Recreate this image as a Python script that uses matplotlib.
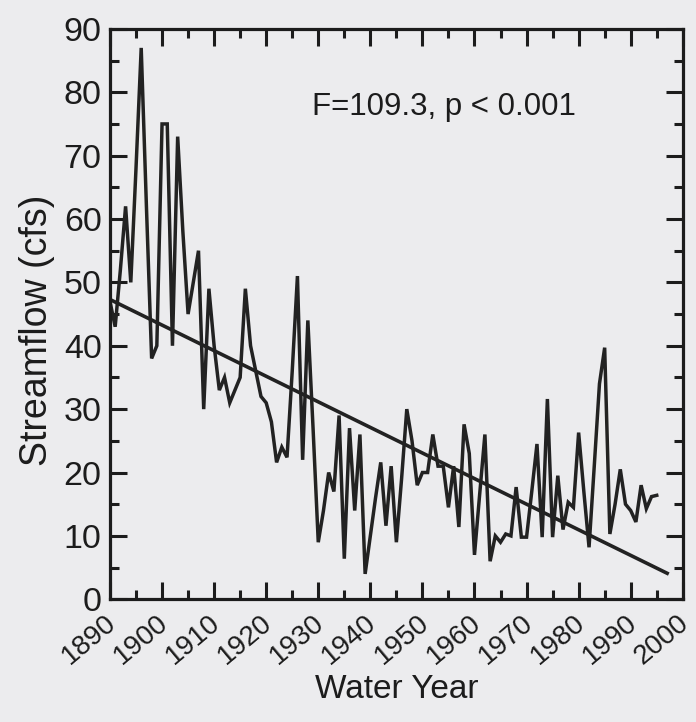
import numpy as np
import matplotlib
matplotlib.use("Agg")
import matplotlib.pyplot as plt
from matplotlib.ticker import MultipleLocator
from matplotlib.transforms import ScaledTranslation

# annual mean streamflow, water years 1890-1995
years = np.arange(1890, 1996)
flow = [47, 43, 52, 62, 50, 68, 87, 62, 38, 40,
        75, 75, 40, 73, 58, 45, 50, 55, 30, 49,
        40, 33, 35, 31, 33, 35, 49, 40, 36, 32,
        31, 28, 21.6, 24, 22.4, 36, 51, 22, 44, 27,
        9, 14, 20, 17, 29, 6.4, 27, 14, 26, 4,
        10, 16, 21.6, 11.6, 21, 9, 19, 30, 25, 18,
        20, 20, 26, 21, 21, 14.5, 21, 11.4, 27.6, 23,
        7, 16.6, 26, 6, 10, 9, 10.3, 10, 17.7, 9.8,
        9.8, 17, 24.5, 9.8, 31.6, 9.8, 19.5, 11, 15.3, 14.5,
        26.3, 17, 8.2, 21, 34, 39.7, 10.3, 15, 20.5, 15,
        14, 12.2, 18, 14.3, 16.2, 16.4]

# fitted linear trend (end points)
trend_years = [1890, 1997]
trend_flow = [47.3, 4.1]

bg = "#ececee"
ink = "#1c1c1c"
plt.rcParams["font.family"] = ["Liberation Sans", "DejaVu Sans"]

fig = plt.figure(figsize=(6.96, 7.22), dpi=100, facecolor=bg)
ax = fig.add_axes([0.158, 0.170, 0.823, 0.790], facecolor=bg)

ax.plot(years, flow, color="#222222", lw=2.5, solid_joinstyle="miter")
ax.plot(trend_years, trend_flow, color="#222222", lw=2.6)

ax.text(1954.2, 77.7, "F=109.3, p < 0.001", fontsize=22.5, ha="center", va="center",
        color=ink)

ax.set_xlim(1890, 2000)
ax.set_ylim(0, 90)
ax.xaxis.set_major_locator(MultipleLocator(10))
ax.xaxis.set_minor_locator(MultipleLocator(5))
ax.yaxis.set_major_locator(MultipleLocator(10))
ax.yaxis.set_minor_locator(MultipleLocator(5))

ax.tick_params(which="both", direction="in", top=True, right=True,
               color=ink, width=2.2)
ax.tick_params(which="major", length=12.5)
ax.tick_params(which="minor", length=6.5)
ax.tick_params(axis="y", labelsize=24.5, pad=6, labelcolor=ink)
ax.tick_params(axis="x", labelsize=20, pad=15, labelcolor=ink)
# nudge the slanted year labels a little to the right
shift = ScaledTranslation(0.03, 0, fig.dpi_scale_trans)
for lbl in ax.get_xticklabels():
    lbl.set_rotation(40)
    lbl.set_ha("right")
    lbl.set_va("center")
    lbl.set_rotation_mode("anchor")
    lbl.set_transform(lbl.get_transform() + shift)

for sp in ax.spines.values():
    sp.set_linewidth(2.3)
    sp.set_color(ink)

ax.set_xlabel("Water Year", fontsize=24, color=ink, labelpad=3)
ax.set_ylabel("Streamflow (cfs)", fontsize=27, color=ink, labelpad=6)
ax.yaxis.label.set_y(0.472)

fig.savefig("out.png", dpi=100, facecolor=bg)
